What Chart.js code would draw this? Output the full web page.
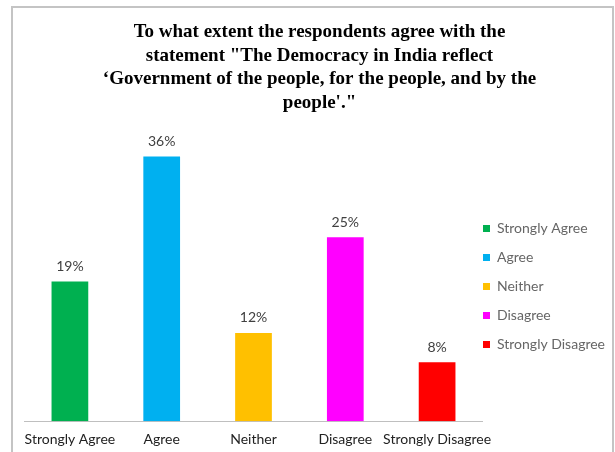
<!DOCTYPE html>
<html>
<head>
<meta charset="utf-8">
<script src="https://cdn.jsdelivr.net/npm/chart.js@4/dist/chart.umd.min.js"></script>
<style>
  html, body { margin: 0; padding: 0; background: #fff; overflow: hidden; }
  #frame {
    position: absolute; left: 11px; top: 6px; width: 603px; height: 460px;
    border: 2px solid #c4c4c4; box-sizing: border-box;
  }
  #wrap { position: absolute; left: 0; top: 0; width: 615px; height: 458px; }
</style>
</head>
<body>
<div id="frame"></div>
<div id="wrap"><canvas id="agreeChart" width="615" height="458"></canvas></div>
<script>
const categories = ['Strongly Agree', 'Agree', 'Neither', 'Disagree', 'Strongly Disagree'];
const percentages = [19, 36, 12, 25, 8];
const barColors = ['#00B050', '#00B0F0', '#FFC000', '#FF00FF', '#FF0000'];
const titleLines = [
  'To what extent the respondents agree with the',
  'statement "The Democracy in India reflect',
  '\u2018Government of the people, for the people, and by the',
  "people'.\""
];

const labelFont = { family: 'Lato', size: 14 };

// writes "NN%" above every bar
const valueLabels = {
  id: 'valueLabels',
  afterDatasetsDraw(chart) {
    const ctx = chart.ctx;
    const meta = chart.getDatasetMeta(0);
    ctx.save();
    ctx.font = '14px Lato';
    ctx.fillStyle = '#404040';
    ctx.textAlign = 'center';
    ctx.textBaseline = 'middle';
    meta.data.forEach((bar, i) => {
      ctx.fillText(percentages[i] + '%', bar.x, bar.y - 15);
    });
    ctx.restore();
  }
};

new Chart(document.getElementById('agreeChart'), {
  type: 'bar',
  data: {
    labels: categories,
    datasets: [{
      data: percentages,
      backgroundColor: barColors,
      borderWidth: 0,
      categoryPercentage: 1,
      barPercentage: 0.4
    }]
  },
  options: {
    responsive: false,
    animation: false,
    layout: { padding: { left: 24, right: 0, top: 0, bottom: 0 } },
    plugins: {
      title: {
        display: true,
        text: titleLines,
        color: '#000',
        font: { family: 'Liberation Serif', size: 19, weight: 'bold', lineHeight: 1.25 },
        padding: { top: 20, bottom: 12 }
      },
      legend: {
        position: 'right',
        maxWidth: 133,
        onClick: null,
        // empty title only pushes the item column down
        title: { display: true, text: ' ', font: { size: 10, lineHeight: 1 }, padding: { top: 60, bottom: 60 } },
        labels: {
          boxWidth: 7,
          boxHeight: 7,
          padding: 0,
          color: '#222',
          font: { family: 'Lato', size: 14, lineHeight: 29 / 14 },
          // array text -> item height follows the font lineHeight
          generateLabels: () => categories.map((c, i) => ({
            text: [c],
            fillStyle: barColors[i],
            strokeStyle: barColors[i],
            lineWidth: 0,
            index: i
          }))
        }
      },
      tooltip: { enabled: false }
    },
    scales: {
      x: {
        grid: { display: false, drawTicks: false },
        border: { display: true, color: '#bfbfbf', width: 1 },
        ticks: { color: '#222', font: labelFont, padding: 10, maxRotation: 0, autoSkip: false }
      },
      y: {
        display: false,
        min: 0,
        max: 40
      }
    }
  },
  plugins: [valueLabels]
});
</script>
</body>
</html>
